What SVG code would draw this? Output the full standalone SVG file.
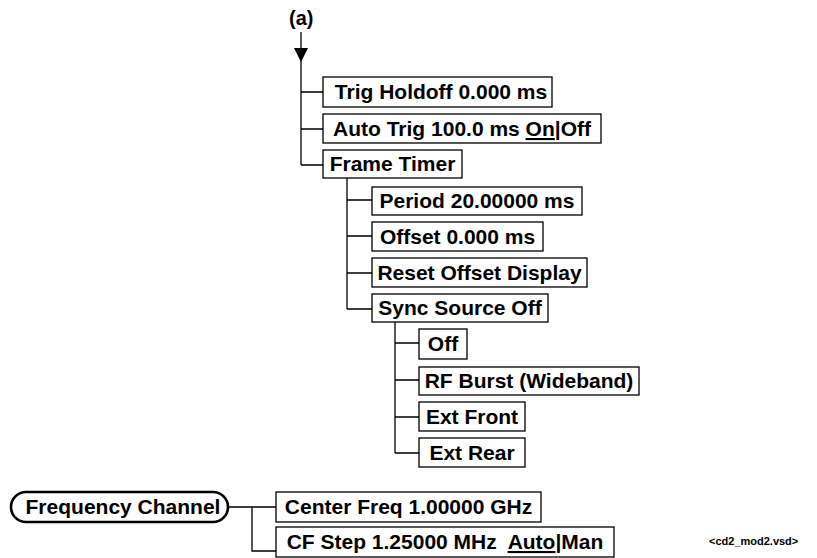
<svg xmlns="http://www.w3.org/2000/svg" width="817" height="558" viewBox="0 0 817 558">
  <style>
    .box { fill: #fff; stroke: #000; stroke-width: 1.3; }
    .pill { fill: #fff; stroke: #000; stroke-width: 2.6; }
    .lbl { font-family: "Liberation Sans", Arial, sans-serif; font-weight: bold; font-size: 21px; fill: #000; text-anchor: middle; }
    .wire { fill: none; stroke: #000; stroke-width: 1.3; }
    .u { text-decoration: underline; }
  </style>

  <!-- entry marker -->
  <text x="289" y="25" class="lbl" style="text-anchor:start;font-size:20px">(a)</text>

  <!-- connectors -->
  <g id="connectors">
    <path class="wire" d="M301,32 V165 M301,92 H323 M301,129 H323 M301,165 H323"/>
    <polygon points="294,48 308,48 301,62" fill="#000"/>
    <path class="wire" d="M347,178 V309 M347,200 H372 M347,236 H372 M347,273 H372 M347,309 H372"/>
    <path class="wire" d="M395,322 V453 M395,343 H419 M395,380 H419 M395,417 H419 M395,453 H419"/>
    <path class="wire" d="M228,507 H276 M252,507 V551 H276"/>
  </g>

  <!-- trigger menu -->
  <g id="trig-holdoff">
    <rect class="box" x="323" y="77" width="229" height="30"/>
    <text class="lbl" x="441" y="99">Trig Holdoff 0.000 ms</text>
  </g>
  <g id="auto-trig">
    <rect class="box" x="323" y="114" width="278" height="29"/>
    <text class="lbl" x="462" y="136">Auto Trig 100.0 ms <tspan class="u">On</tspan>|Off</text>
  </g>
  <g id="frame-timer">
    <rect class="box" x="323" y="150" width="139" height="28"/>
    <text class="lbl" x="392.5" y="171">Frame Timer</text>
  </g>

  <!-- frame timer submenu -->
  <g id="period">
    <rect class="box" x="372" y="187" width="210" height="28"/>
    <text class="lbl" x="477" y="208">Period 20.00000 ms</text>
  </g>
  <g id="offset">
    <rect class="box" x="372" y="222" width="171" height="29"/>
    <text class="lbl" x="457.5" y="244">Offset 0.000 ms</text>
  </g>
  <g id="reset-offset">
    <rect class="box" x="372" y="258" width="215" height="29"/>
    <text class="lbl" x="479.5" y="280">Reset Offset Display</text>
  </g>
  <g id="sync-source">
    <rect class="box" x="372" y="294" width="176" height="28"/>
    <text class="lbl" x="460" y="315">Sync Source Off</text>
  </g>

  <!-- sync source choices -->
  <g id="sync-off">
    <rect class="box" x="419" y="329" width="48" height="30"/>
    <text class="lbl" x="443" y="351">Off</text>
  </g>
  <g id="rf-burst">
    <rect class="box" x="419" y="367" width="220" height="28"/>
    <text class="lbl" x="529" y="388">RF Burst (Wideband)</text>
  </g>
  <g id="ext-front">
    <rect class="box" x="419" y="402" width="106" height="29"/>
    <text class="lbl" x="472" y="424">Ext Front</text>
  </g>
  <g id="ext-rear">
    <rect class="box" x="419" y="438" width="106" height="29"/>
    <text class="lbl" x="472" y="460">Ext Rear</text>
  </g>

  <!-- frequency channel key -->
  <g id="frequency-channel">
    <rect class="pill" x="11" y="492" width="217" height="30" rx="15" ry="15"/>
    <text class="lbl" x="123" y="514">Frequency Channel</text>
  </g>
  <g id="center-freq">
    <rect class="box" x="276" y="492" width="265" height="30"/>
    <text class="lbl" x="408.5" y="514">Center Freq 1.00000 GHz</text>
  </g>
  <g id="cf-step">
    <rect class="box" x="276" y="527" width="338" height="30"/>
    <text class="lbl" x="445" y="549" xml:space="preserve">CF Step 1.25000 MHz  <tspan class="u">Auto</tspan>|Man</text>
  </g>

  <text x="709" y="545" class="lbl" style="text-anchor:start;font-size:11px">&lt;cd2_mod2.vsd&gt;</text>
</svg>
